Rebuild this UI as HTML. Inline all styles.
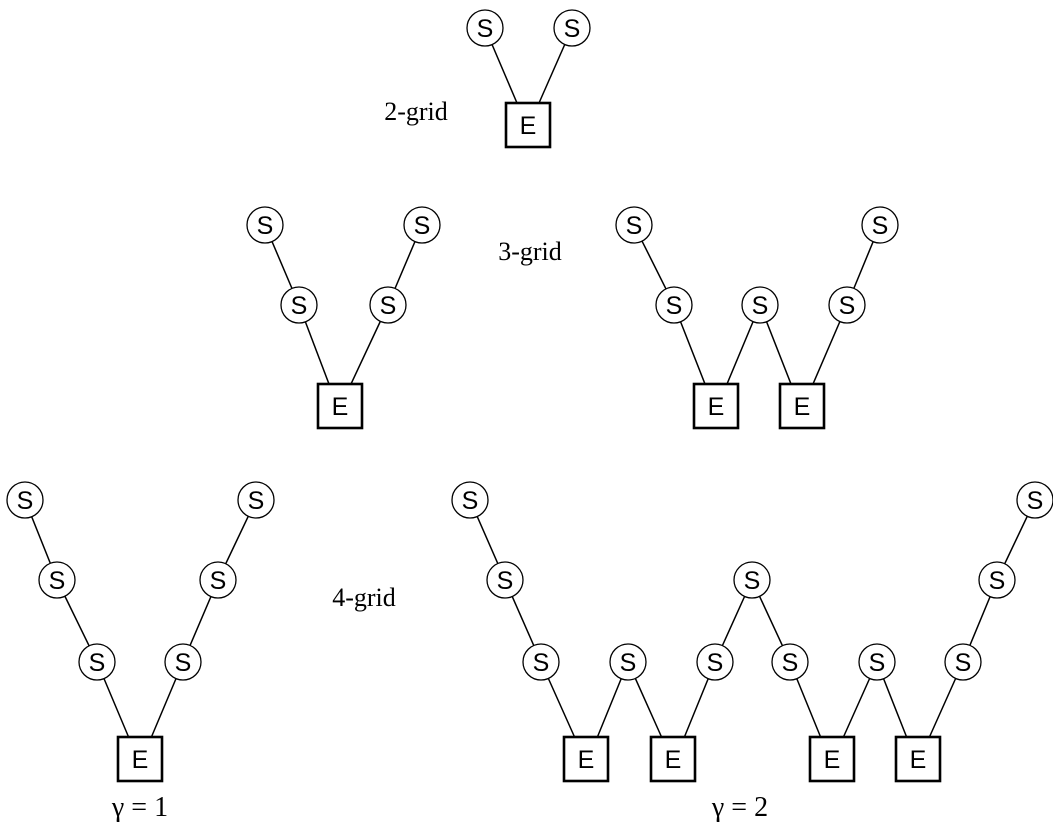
<!DOCTYPE html>
<html><head><style>body{margin:0;background:#fff}svg{display:block}</style></head><body>
<svg width="1053" height="828" viewBox="0 0 1053 828" xmlns="http://www.w3.org/2000/svg">
<g stroke="#000" stroke-width="1.5">
<line x1="485" y1="28" x2="517" y2="103"/><line x1="572" y1="28" x2="539" y2="103"/>
<line x1="265" y1="225" x2="299" y2="305"/><line x1="299" y1="305" x2="329" y2="384"/>
<line x1="422" y1="225" x2="388" y2="305"/><line x1="388" y1="305" x2="351" y2="384"/>
<line x1="634" y1="225" x2="674" y2="305"/><line x1="674" y1="305" x2="705" y2="384"/>
<line x1="760" y1="305" x2="727" y2="384"/><line x1="760" y1="305" x2="791" y2="384"/>
<line x1="880" y1="225" x2="847" y2="305"/><line x1="847" y1="305" x2="813" y2="384"/>
<line x1="25" y1="500" x2="57" y2="580"/><line x1="57" y1="580" x2="97" y2="662"/><line x1="97" y1="662" x2="129" y2="738"/>
<line x1="256" y1="500" x2="218" y2="580"/><line x1="218" y1="580" x2="183" y2="662"/><line x1="183" y1="662" x2="151" y2="738"/>
<line x1="470" y1="500" x2="505" y2="580"/><line x1="505" y1="580" x2="541" y2="662"/><line x1="541" y1="662" x2="575" y2="738"/>
<line x1="628" y1="662" x2="597" y2="738"/><line x1="628" y1="662" x2="662" y2="738"/>
<line x1="715" y1="662" x2="684" y2="738"/><line x1="715" y1="662" x2="752" y2="580"/><line x1="752" y1="580" x2="790" y2="662"/><line x1="790" y1="662" x2="821" y2="738"/>
<line x1="877" y1="662" x2="843" y2="738"/><line x1="877" y1="662" x2="907" y2="738"/>
<line x1="963" y1="662" x2="929" y2="738"/><line x1="963" y1="662" x2="997" y2="580"/><line x1="997" y1="580" x2="1035" y2="500"/>
</g>
<g fill="#fff" stroke="#000" stroke-width="1.3">
<circle cx="485" cy="28" r="18"/><circle cx="572" cy="28" r="18"/>
<circle cx="265" cy="225" r="18"/><circle cx="299" cy="305" r="18"/><circle cx="422" cy="225" r="18"/><circle cx="388" cy="305" r="18"/>
<circle cx="634" cy="225" r="18"/><circle cx="674" cy="305" r="18"/><circle cx="760" cy="305" r="18"/><circle cx="847" cy="305" r="18"/><circle cx="880" cy="225" r="18"/>
<circle cx="25" cy="500" r="18"/><circle cx="57" cy="580" r="18"/><circle cx="97" cy="662" r="18"/><circle cx="256" cy="500" r="18"/><circle cx="218" cy="580" r="18"/><circle cx="183" cy="662" r="18"/>
<circle cx="470" cy="500" r="18"/><circle cx="505" cy="580" r="18"/><circle cx="541" cy="662" r="18"/><circle cx="628" cy="662" r="18"/><circle cx="715" cy="662" r="18"/><circle cx="752" cy="580" r="18"/><circle cx="790" cy="662" r="18"/><circle cx="877" cy="662" r="18"/><circle cx="963" cy="662" r="18"/><circle cx="997" cy="580" r="18"/><circle cx="1035" cy="500" r="18"/>
</g>
<g fill="#fff" stroke="#000" stroke-width="2.6">
<rect x="506" y="103" width="44" height="44"/>
<rect x="318" y="384" width="44" height="44"/>
<rect x="694" y="384" width="44" height="44"/><rect x="780" y="384" width="44" height="44"/>
<rect x="118" y="737" width="44" height="44"/>
<rect x="564" y="737" width="44" height="44"/><rect x="651" y="737" width="44" height="44"/><rect x="810" y="737" width="44" height="44"/><rect x="896" y="737" width="44" height="44"/>
</g>
<g font-family="Liberation Sans, sans-serif" font-size="25" text-anchor="middle">
<text x="485" y="37">S</text><text x="572" y="37">S</text>
<text x="265" y="234">S</text><text x="299" y="314">S</text><text x="422" y="234">S</text><text x="388" y="314">S</text>
<text x="634" y="234">S</text><text x="674" y="314">S</text><text x="760" y="314">S</text><text x="847" y="314">S</text><text x="880" y="234">S</text>
<text x="25" y="509">S</text><text x="57" y="589">S</text><text x="97" y="671">S</text><text x="256" y="509">S</text><text x="218" y="589">S</text><text x="183" y="671">S</text>
<text x="470" y="509">S</text><text x="505" y="589">S</text><text x="541" y="671">S</text><text x="628" y="671">S</text><text x="715" y="671">S</text><text x="752" y="589">S</text><text x="790" y="671">S</text><text x="877" y="671">S</text><text x="963" y="671">S</text><text x="997" y="589">S</text><text x="1035" y="509">S</text>
<text x="528" y="134">E</text>
<text x="340" y="415">E</text>
<text x="716" y="415">E</text><text x="802" y="415">E</text>
<text x="140" y="768">E</text>
<text x="586" y="768">E</text><text x="673" y="768">E</text><text x="832" y="768">E</text><text x="918" y="768">E</text>
</g>
<g font-family="Liberation Serif, serif" font-size="26" text-anchor="middle">
<text x="416" y="120">2-grid</text>
<text x="530" y="260">3-grid</text>
<text x="364" y="606">4-grid</text>
<text x="140" y="816" font-size="28">γ = 1</text>
<text x="740" y="816" font-size="28">γ = 2</text>
</g>
</svg>
</body></html>
